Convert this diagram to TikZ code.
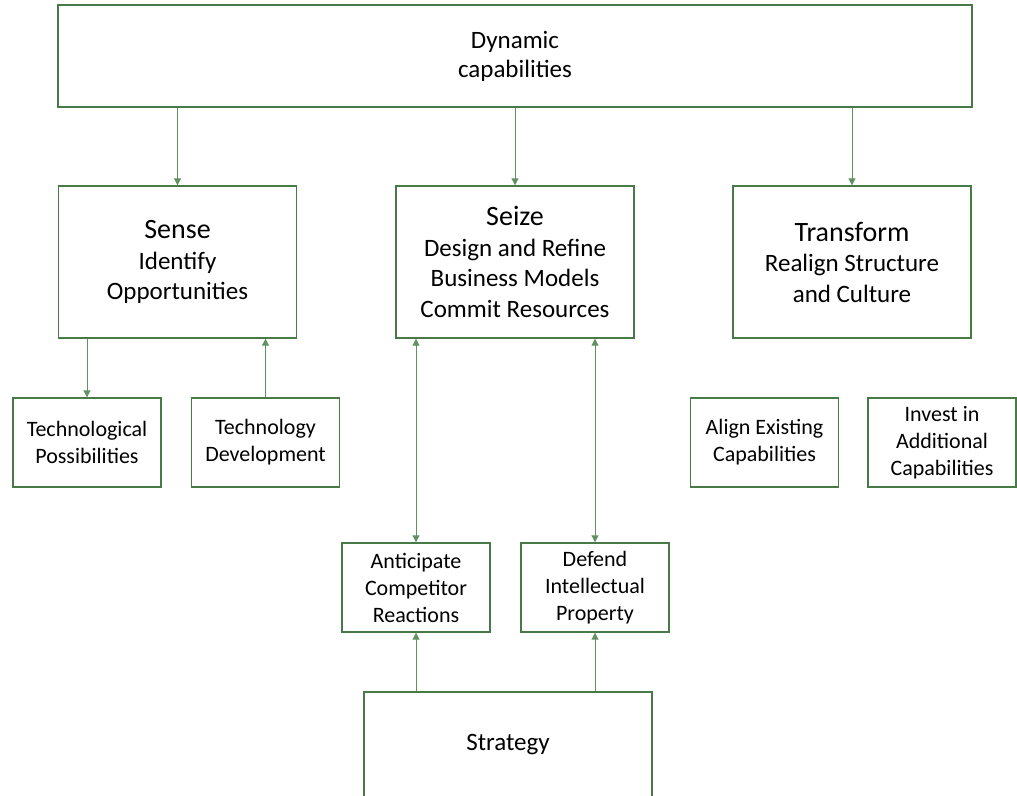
\documentclass[tikz,border=0pt]{standalone}
\usepackage{fontspec}
\setmainfont{Carlito}
\usetikzlibrary{arrows.meta}
\definecolor{boxgreen}{RGB}{72,122,72}
\definecolor{linegreen}{RGB}{96,145,96}
\begin{document}
\begin{tikzpicture}[x=1pt,y=-1pt,
  box/.style={draw=boxgreen,line width=1.4pt,rectangle,inner sep=0pt,align=center},
  mainbox/.style={box,minimum width=238pt,minimum height=152pt,font=\fontsize{25}{30.5}\selectfont},
  smallbox/.style={box,minimum width=148pt,minimum height=89pt,font=\fontsize{22}{27}\selectfont},
  arr/.style={draw=linegreen,line width=1pt,-{Triangle[length=7pt,width=7pt]}},
  darr/.style={draw=linegreen,line width=1pt,{Triangle[length=7pt,width=7pt]}-{Triangle[length=7pt,width=7pt]}}]
\clip (0,0) rectangle (1017,795);
\node[box,line width=2pt,minimum width=914pt,minimum height=102pt,font=\fontsize{25}{29}\selectfont] (dyn) at (515,56) {Dynamic\\capabilities};
\node[mainbox] (sense) at (177.5,262) {{\fontsize{28}{31}\selectfont Sense}\\Identify\\Opportunities};
\node[mainbox] (seize) at (515,262) {{\fontsize{28}{31}\selectfont Seize}\\Design and Refine\\Business Models\\Commit Resources};
\node[mainbox] (trans) at (852,262) {{\fontsize{28}{31}\selectfont Transform}\\Realign Structure\\and Culture};
\node[smallbox] (tp) at (87,442.5) {Technological\\Possibilities};
\node[smallbox] (td) at (265.5,442.5) {Technology\\Development};
\node[smallbox] (ae) at (764.5,442.5) {Align Existing\\Capabilities};
\node[smallbox] (ia) at (942,442.5) {Invest in\\Additional\\Capabilities};
\node[smallbox] (ac) at (416,587.5) {Anticipate\\Competitor\\Reactions};
\node[smallbox] (dp) at (595,587.5) {Defend\\Intellectual\\Property};
\node[box,minimum width=288pt,minimum height=106pt,font=\fontsize{25}{30}\selectfont] (str) at (508,745) {Strategy};
\draw[arr] (dyn.south -| sense.north) -- (sense.north);
\draw[arr] (dyn.south -| seize.north) -- (seize.north);
\draw[arr] (dyn.south -| trans.north) -- (trans.north);
\draw[arr] (sense.south -| tp.north) -- (tp.north);
\draw[arr] (td.north) -- (td.north |- sense.south);
\draw[darr] (seize.south -| ac.north) -- (ac.north);
\draw[darr] (seize.south -| dp.north) -- (dp.north);
\draw[arr] (str.north -| ac.south) -- (ac.south);
\draw[arr] (str.north -| dp.south) -- (dp.south);
\end{tikzpicture}
\end{document}
